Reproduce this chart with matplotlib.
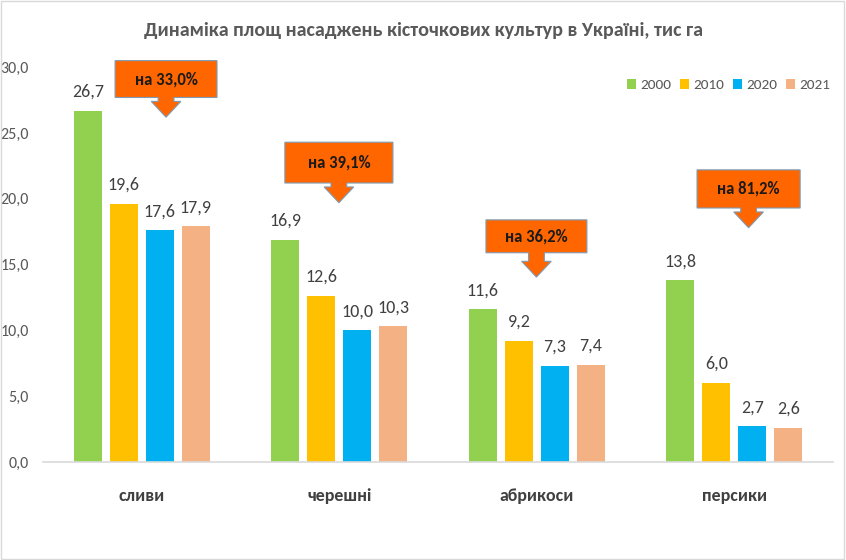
import matplotlib
matplotlib.use("Agg")
import matplotlib.pyplot as plt
import numpy as np
from matplotlib.patches import Polygon, Rectangle

plt.rcParams['font.family'] = ['Carlito', 'DejaVu Sans']

categories = ["сливи", "черешні", "абрикоси", "персики"]
years = ["2000", "2010", "2020", "2021"]
v2000 = [26.7, 16.9, 11.6, 13.8]
v2010 = [19.6, 12.6, 9.2, 6.0]
v2020 = [17.6, 10.0, 7.3, 2.7]
v2021 = [17.9, 10.3, 7.4, 2.6]
series = [v2000, v2010, v2020, v2021]
colors = ["#92D050", "#FFC000", "#00B0F0", "#F4B183"]

callout_texts = ["на 33,0%", "на 39,1%", "на 36,2%", "на 81,2%"]
# annotation geometry (data coords): box center x, box bottom, box top, arrow tip y
callout_cx = [0.123, 0.998, 1.998, 3.072]
callout_bottom = [27.7, 21.2, 15.9, 19.3]
callout_top = [30.5, 24.3, 18.4, 22.2]
callout_tip = [26.2, 19.7, 14.05, 17.8]
callout_w = [0.516, 0.547, 0.511, 0.522]

title = "Динаміка площ насаджень кісточкових культур в Україні, тис га"

fig = plt.figure(figsize=(8.46, 5.6), dpi=100)
ax = fig.add_axes([0.0508, 0.175, 0.934, 0.705])

x = np.arange(len(categories))
bw = 0.142
step = 0.182
for i, (vals, c, yr) in enumerate(zip(series, colors, years)):
    pos = x + (i - 1.5) * step
    ax.bar(pos, vals, width=bw, color=c, label=yr, zorder=2)
    for p, v in zip(pos, vals):
        ax.annotate(f"{v:.1f}".replace(".", ","), (p, v), xytext=(0, 8),
                    textcoords="offset points", ha="center", va="bottom",
                    fontsize=13, color="#404040")

ax.set_xlim(-0.5, len(categories) - 0.5)
ax.set_ylim(0, 30)
ticks = np.arange(0, 30.1, 5)
ax.set_yticks(ticks)
ax.set_yticklabels([f"{t:.1f}".replace(".", ",") for t in ticks],
                   fontsize=11.5, color="#595959")
ax.set_xticks(x)
ax.set_xticklabels(categories, fontsize=13, color="#404040", fontweight="bold")
ax.tick_params(axis="both", length=0)
ax.tick_params(axis="x", pad=19)
ax.tick_params(axis="y", pad=10)
for s in ["left", "right", "top"]:
    ax.spines[s].set_visible(False)
ax.spines["bottom"].set_color("#D9D9D9")
ax.spines["bottom"].set_linewidth(1.2)

# callouts
shaft = 0.04
head = 0.075
for cx, b, t, tip, w, txt in zip(callout_cx, callout_bottom, callout_top, callout_tip, callout_w, callout_texts):
    hb = tip + 1.2
    pts = [(cx - w / 2, t), (cx + w / 2, t), (cx + w / 2, b), (cx + shaft, b),
           (cx + shaft, hb), (cx + head, hb), (cx, tip), (cx - head, hb),
           (cx - shaft, hb), (cx - shaft, b), (cx - w / 2, b)]
    poly = Polygon(pts, closed=True, facecolor="#FF6600", edgecolor="#7F9BB5",
                   linewidth=0.8, zorder=5, clip_on=False)
    ax.add_patch(poly)
    ax.text(cx, (b + t) / 2, txt, ha="center", va="center", fontsize=12,
            fontweight="bold", color="#1a1a1a", zorder=6, clip_on=False)

leg = ax.legend(loc="center right", bbox_to_anchor=(1.008, 0.954), ncol=4, frameon=False,
                handlelength=0.55, handleheight=0.55, handletextpad=0.3,
                columnspacing=0.6, fontsize=11, borderpad=0.1)
for t in leg.get_texts():
    t.set_color("#595959")

fig.text(0.5, 0.946, title, ha="center", va="center", fontsize=14.5,
         fontweight="bold", color="#595959")

fig.patches.append(Rectangle((0.001, 0.001), 0.997, 0.997, transform=fig.transFigure,
                             fill=False, edgecolor="#D9D9D9", linewidth=1))

fig.savefig("out.png", dpi=100)
